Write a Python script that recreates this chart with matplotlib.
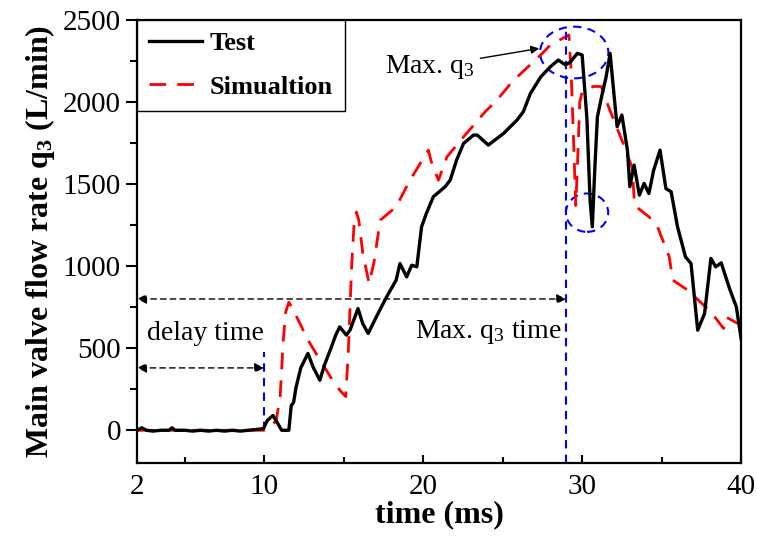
import matplotlib
matplotlib.use('Agg')
import matplotlib.pyplot as plt
from matplotlib.patches import Ellipse

plt.rcParams['font.family'] = ['Liberation Serif', 'DejaVu Serif']
plt.rcParams['mathtext.fontset'] = 'custom'
plt.rcParams['mathtext.rm'] = 'Liberation Serif'
plt.rcParams['mathtext.it'] = 'Liberation Serif:italic'
plt.rcParams['mathtext.bf'] = 'Liberation Serif:bold'

# measured flow rate (Test)
test_t = [2, 2.3, 2.6, 3, 3.5, 4, 4.2, 4.4, 5, 5.5, 6, 6.5, 7, 7.5, 8, 8.5, 9,
          9.5, 9.95, 10.2, 10.55, 10.8, 11.1, 11.55, 11.7, 11.85, 12.0, 12.3,
          12.75, 13.1, 13.5, 13.8, 14.2, 14.5, 14.75, 15.17, 15.4, 15.9, 16.2,
          16.54, 17.1, 17.7, 18.3, 18.54, 18.96, 19.28, 19.6, 19.9, 20.2,
          20.64, 21.38, 21.7, 22.1, 22.54, 23.17, 23.4, 24.1, 25.06, 25.9,
          26.3, 26.75, 27.4, 28.0, 28.5, 28.96, 29.27, 29.7, 30.0, 30.3, 30.5,
          30.64, 30.8, 30.96, 31.27, 31.5, 31.76, 32.0, 32.2, 32.5, 32.85,
          33.0, 33.27, 33.6, 33.9, 34.2, 34.5, 34.9, 35.27, 35.6, 36.0, 36.5,
          36.85, 37.27, 37.7, 38.1, 38.4, 38.75, 39.27, 39.7, 40]
test_q = [0, 15, 0, -5, 0, 0, 15, 0, 0, -5, 0, -5, 0, -5, 0, -5, 0,
          5, 10, 60, 90, 50, 0, 0, 150, 170, 260, 380,
          468, 380, 305, 400, 500, 580, 630, 580, 610, 742, 650,
          590, 700, 813, 915, 1016, 935, 1006, 996, 1240, 1321,
          1423, 1484, 1524, 1646, 1748, 1799, 1799, 1738, 1809, 1890,
          1941, 2053, 2154, 2215, 2256, 2226, 2246, 2297, 2287, 1900, 1400,
          1240, 1600, 1910, 2053, 2150, 2297, 2050, 1850, 1921, 1707,
          1484, 1616, 1433, 1504, 1443, 1585, 1707, 1473, 1453, 1240, 1057,
          1016, 610, 711, 1047, 996, 1020, 864, 752, 559]

# simulated flow rate
sim_t = [2, 10, 10.4, 10.75, 11.0, 11.2, 11.35, 11.55, 11.8, 12.3, 12.75,
         13.5, 14.2, 14.75, 15.13, 15.3, 15.5, 15.65, 15.8, 15.95, 16.2,
         16.6, 16.9, 17.3, 18.3, 19.17, 20.33, 20.5, 20.96, 21.5, 22.54,
         23.9, 24.64, 25.6, 27.5, 28.0, 29.17, 29.3, 29.45, 29.6, 29.7,
         29.85, 30.0, 30.7, 31.2, 31.7, 32.5, 33.15, 33.3, 34.2, 34.74,
         35.48, 35.7, 36.64, 38.1, 38.9, 39.05, 40]
sim_q = [0, 0, 20, 60, 200, 550, 720, 780, 740, 640, 550,
         430, 320, 245, 205, 500, 1000, 1250, 1330, 1280, 1080,
         895, 1020, 1280, 1362, 1524, 1707, 1640, 1524, 1667, 1788,
         1941, 2012, 2124, 2297, 2348, 2409, 2200, 1800, 1370, 1600,
         2000, 2060, 2095, 2095, 1961, 1768, 1600, 1370, 1301, 1240,
         1057, 915, 854, 721, 620, 690, 640]

x_ticks = [2, 10, 20, 30, 40]
y_ticks = [0, 500, 1000, 1500, 2000, 2500]

fig = plt.figure(figsize=(7.57, 5.41), dpi=100)
ax = fig.add_axes([0.181, 0.144, 0.798, 0.819])

ax.plot(sim_t, sim_q, color='#ff0000', lw=2.0, ls=(0, (6, 4)),
        label='Simualtion', zorder=2)
ax.plot(test_t, test_q, color='black', lw=2.4, label='Test', zorder=3)

# blue guide lines and ellipses
ax.plot([10, 10], [0, 480], color='#0000ff', lw=1.5, ls=(0, (4, 3)))
ax.plot([29, 29], [-200, 2450], color='#0000ff', lw=1.5, ls=(0, (4, 3)))
ax.add_patch(Ellipse((29.5, 2302), 4.3, 315, fill=False, ec='#0000ff',
                     lw=1.5, ls=(0, (4, 3))))
ax.add_patch(Ellipse((30.31, 1326), 2.66, 234, fill=False, ec='#0000ff',
                     lw=1.5, ls=(0, (4, 3))))

# time arrows
arrow = dict(arrowstyle='<|-|>', ls=(0, (4, 3)), lw=1.0, color='black',
             mutation_scale=14, shrinkA=0, shrinkB=0)
ax.annotate('', xy=(2, 800), xytext=(29, 800), arrowprops=arrow)
ax.annotate('', xy=(2, 380), xytext=(10, 380), arrowprops=arrow)
ax.text(6.3, 590, 'delay time', fontsize=20, ha='center', va='center')
ax.text(24.1, 600, r'Max. q$_\mathrm{3}$ time', fontsize=20,
        ha='center', va='center')
ax.annotate(r'Max. q$_\mathrm{3}$', xy=(27.3, 2327), xytext=(17.6, 2215),
            fontsize=20, va='center',
            arrowprops=dict(arrowstyle='-|>', color='black', lw=1.0,
                            mutation_scale=12, shrinkA=2, shrinkB=0))

ax.set_xlim(2, 40)
ax.set_ylim(-200, 2500)
ax.set_xticks(x_ticks)
ax.set_xticks([5, 15, 25, 35], minor=True)
ax.set_yticks(y_ticks)
ax.set_yticks([250, 750, 1250, 1750, 2250], minor=True)
ax.tick_params(axis='x', which='both', direction='in', labelsize=21, pad=8)
ax.tick_params(axis='x', which='major', length=6, width=1.5)
ax.tick_params(axis='x', which='minor', length=4, width=1.5)
ax.tick_params(axis='y', which='both', direction='out', labelsize=21)
ax.tick_params(axis='y', which='major', length=8, width=1.5)
ax.tick_params(axis='y', which='minor', length=5, width=1.5)
for s in ax.spines.values():
    s.set_linewidth(1.6)

ax.set_xlabel('time (ms)', fontsize=23, fontweight='bold', labelpad=0)
ax.set_ylabel(r'Main valve flow rate q$_\mathbf{3}$ (L/min)', fontsize=23,
              fontweight='bold', labelpad=4)

handles, labels = ax.get_legend_handles_labels()
leg = ax.legend(handles[::-1], labels[::-1], loc='upper left',
                borderaxespad=0, fancybox=False, edgecolor='black',
                framealpha=1, handlelength=2.0, labelspacing=0.75,
                handletextpad=0.3, borderpad=0.45,
                prop={'weight': 'bold', 'size': 19})
leg.get_frame().set_linewidth(1.0)

fig.savefig('out.png', dpi=100)
